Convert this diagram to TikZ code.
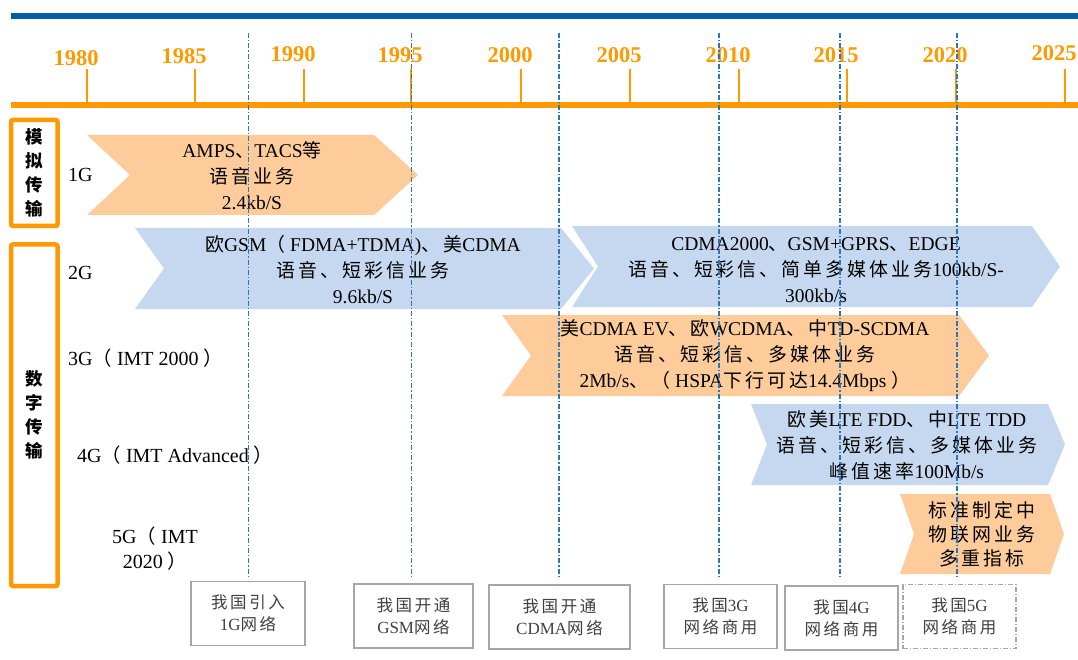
\documentclass[tikz,border=0pt]{standalone}
\usepackage{fontspec}
\setmainfont{Liberation Serif}
\newfontfamily\cjkfont[Scale=0.97,LetterSpace=16]{Noto Sans CJK SC}
\newcommand\latinfont{\rmfamily}

% switch to the CJK font for CJK characters
\XeTeXinterchartokenstate=1
\newXeTeXintercharclass\cjkclass
\newcommand\setcjkrange[2]{%
  \count255=#1
  \loop\XeTeXcharclass\count255=\cjkclass
  \ifnum\count255<#2 \advance\count255 by 1 \repeat}
\setcjkrange{"3000}{"303F}
\setcjkrange{"4E00}{"9FFF}
\setcjkrange{"FF00}{"FFEF}
\XeTeXinterchartoks 0 \cjkclass = {\cjkfont}
\XeTeXinterchartoks 4095 \cjkclass = {\cjkfont}
\XeTeXinterchartoks \cjkclass 0 = {\latinfont}
\XeTeXinterchartoks \cjkclass 4095 = {\latinfont}

\definecolor{barblue}{HTML}{005EA5}
\definecolor{axisorange}{HTML}{FF9900}
\definecolor{bandorange}{HTML}{FECB9A}
\definecolor{bandblue}{HTML}{C6D8F0}
\definecolor{guideblue}{HTML}{2E75B6}
\definecolor{boxgray}{HTML}{A6A6A6}
\definecolor{textgray}{HTML}{404040}

\tikzset{
  yearlabel/.style={text=axisorange, font=\bfseries\fontsize{22.5}{27}\selectfont, inner sep=0pt},
  yeartick/.style={draw=axisorange, line width=2pt},
  sidebox/.style={draw=axisorange, line width=4.5pt, rounded corners=2pt, inner sep=0pt,
    align=center, font=\bfseries\fontsize{18}{24}\selectfont},
  genlabel/.style={inner sep=0pt, align=center, font=\fontsize{20}{25}\selectfont},
  bandtext/.style={inner sep=0pt, align=center, font=\fontsize{19.5}{26}\selectfont},
  netbox/.style={draw=boxgray, line width=1.2pt, fill=white, inner sep=0pt, align=center,
    text=textgray, font=\fontsize{17}{22}\selectfont, minimum height=64pt},
  guide/.style={draw=guideblue, line width=1.3pt, dash pattern=on 5pt off 2pt on 1.3pt off 2pt}
}

\begin{document}
\begin{tikzpicture}[x=1pt, y=-1pt]
\useasboundingbox (0,0) rectangle (1078,660);

% bars and time axis
\draw[barblue, line width=6pt] (11,15.7) -- (1078,15.7);
\draw[axisorange, line width=6pt] (11,104.7) -- (1078,104.7);
\foreach \yr/\tx/\ly in {1980/87/58, 1985/195/56, 1990/304/54, 1995/411/55, 2000/521/55,
    2005/630/55, 2010/739/55, 2015/847/55, 2020/956/55, 2025/1065/53} {
  \node[yearlabel] (y\yr) at (\tx-11,\ly) {\yr};
  \draw[yeartick] (\tx,69) -- (\tx,102);
}

% left side boxes
\node[sidebox, minimum width=46.5pt, minimum height=106pt] (analog) at (34.25,173) {模\\拟\\传\\输};
\node[sidebox, minimum width=46.5pt, minimum height=341.5pt] (digital) at (34.25,415.25) {数\\字\\传\\输};

% generations
\node[genlabel, anchor=west] (g1) at (68,175) {1G};
\node[genlabel, anchor=west] (g2) at (68,273) {2G};
\node[genlabel, anchor=west] (g3) at (68,358) {3G（ IMT 2000 ）};
\node[genlabel, anchor=west] (g4) at (77,455) {4G（ IMT Advanced ）};
\node[genlabel] (g5) at (155,549) {5G（ IMT\\2020 ）};

% bands
\fill[bandorange] (87,135) -- (374,135) -- (418,175) -- (374,215) -- (87,215) -- (130,175) -- cycle;
\fill[bandblue] (135,228) -- (561,228) -- (594,268.5) -- (561,309) -- (135,309) -- (164,268.5) -- cycle;
\fill[bandblue] (572,226) -- (1032,226) -- (1060,266.5) -- (1032,307) -- (572,307) -- (598,266.5) -- cycle;
\fill[bandorange] (502,315) -- (959,315) -- (989,355.5) -- (959,396) -- (502,396) -- (531,355.5) -- cycle;
\fill[bandblue] (751,404) -- (1048,404) -- (1065,444.5) -- (1048,485) -- (751,485) -- (767,444.5) -- cycle;
\fill[bandorange] (900,494) -- (1050,494) -- (1064,534) -- (1050,574) -- (900,574) -- (914,534) -- cycle;

\node[bandtext] (b1g) at (252,176) {AMPS、TACS等\\语音业务\\2.4kb/S};
\node[bandtext] (b2ga) at (363,270) {欧GSM（ FDMA+TDMA)、美CDMA\\语音、短彩信业务\\9.6kb/S};
\node[bandtext] (b2gb) at (816,270) {CDMA2000、GSM+GPRS、EDGE\\语音、短彩信、简单多媒体业务100kb/S-\\300kb/s};
\node[bandtext] (b3g) at (745,356) {美CDMA EV、欧WCDMA、中TD-SCDMA\\语音、短彩信、多媒体业务\\2Mb/s、（ HSPA下行可达14.4Mbps ）};
\node[bandtext] (b4g) at (907,445) {欧美LTE FDD、中LTE TDD\\语音、短彩信、多媒体业务\\峰值速率100Mb/s};
\node[bandtext, font=\fontsize{19.5}{24}\selectfont] (b5g) at (982,534) {标准制定中\\物联网业务\\多重指标};

% milestones in China
\node[netbox, minimum width=114pt] (net1g) at (248,613.5) {我国引入\\1G网络};
\node[netbox, minimum width=119pt] (netgsm) at (413.5,616) {我国开通\\GSM网络};
\node[netbox, minimum width=141pt] (netcdma) at (559.5,617) {我国开通\\CDMA网络};
\node[netbox, minimum width=113pt] (net3g) at (720.5,616.5) {我国3G\\网络商用};
\node[netbox, minimum width=113pt] (net4g) at (841.5,618) {我国4G\\网络商用};
\node[netbox, minimum width=113pt, dash pattern=on 5pt off 2pt on 1pt off 2pt] (net5g) at (959.5,616.5) {我国5G\\网络商用};

% guide lines
\foreach \gx [count=\i] in {248.7, 411.7, 559, 719, 840, 957} {
  \coordinate (gtop\i) at (\gx,33);
  \coordinate (gbot\i) at (\gx,577);
  \draw[guide] (gtop\i) -- (gbot\i);
}
\end{tikzpicture}
\end{document}
